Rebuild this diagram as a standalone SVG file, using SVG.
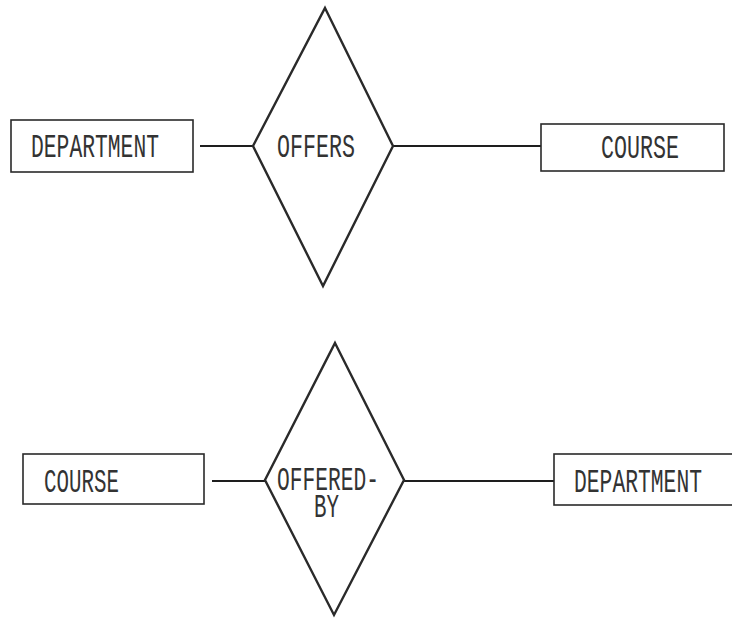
<svg xmlns="http://www.w3.org/2000/svg" width="732" height="623" viewBox="0 0 732 623">
  <style>
    .entity { fill: #fff; stroke: #2a2a2a; stroke-width: 1.6; }
    .rel { fill: #fff; stroke: #2a2a2a; stroke-width: 2.4; stroke-linejoin: miter; }
    .link { stroke: #1e1e1e; stroke-width: 1.8; fill: none; }
    .lbl { font-family: "Liberation Mono", "DejaVu Sans Mono", monospace; font-size: 33px; fill: #333; }
  </style>
  <rect width="732" height="623" fill="#fff"/>

  <!-- connectors -->
  <g id="connectors">
    <line class="link" x1="200" y1="146" x2="253" y2="146"/>
    <line class="link" x1="393" y1="146" x2="541" y2="146"/>
    <line class="link" x1="212" y1="481" x2="265" y2="481"/>
    <line class="link" x1="404" y1="481" x2="554" y2="481"/>
  </g>

  <!-- upper pair: DEPARTMENT offers COURSE -->
  <g id="dept-top">
    <rect class="entity" x="11" y="120" width="182" height="52"/>
    <text class="lbl" x="31" y="157" textLength="128" lengthAdjust="spacingAndGlyphs">DEPARTMENT</text>
  </g>
  <g id="offers">
    <polygon class="rel" points="325,8 393,146 323,286 253,146"/>
    <text class="lbl" x="277" y="157" textLength="78" lengthAdjust="spacingAndGlyphs">OFFERS</text>
  </g>
  <g id="course-top">
    <rect class="entity" x="541" y="124" width="183" height="47"/>
    <text class="lbl" x="601" y="158" textLength="78" lengthAdjust="spacingAndGlyphs">COURSE</text>
  </g>

  <!-- lower pair: COURSE offered-by DEPARTMENT -->
  <g id="course-bottom">
    <rect class="entity" x="23" y="454" width="181" height="50"/>
    <text class="lbl" x="44" y="492" textLength="75" lengthAdjust="spacingAndGlyphs">COURSE</text>
  </g>
  <g id="offered-by">
    <polygon class="rel" points="335,343 404,480 334,615 265,480"/>
    <text class="lbl" x="277" y="490" textLength="102" lengthAdjust="spacingAndGlyphs">OFFERED-</text>
    <text class="lbl" x="314" y="517" textLength="25" lengthAdjust="spacingAndGlyphs">BY</text>
  </g>
  <g id="dept-bottom">
    <rect class="entity" x="554" y="454" width="180" height="51"/>
    <text class="lbl" x="574" y="492" textLength="128" lengthAdjust="spacingAndGlyphs">DEPARTMENT</text>
  </g>
</svg>
